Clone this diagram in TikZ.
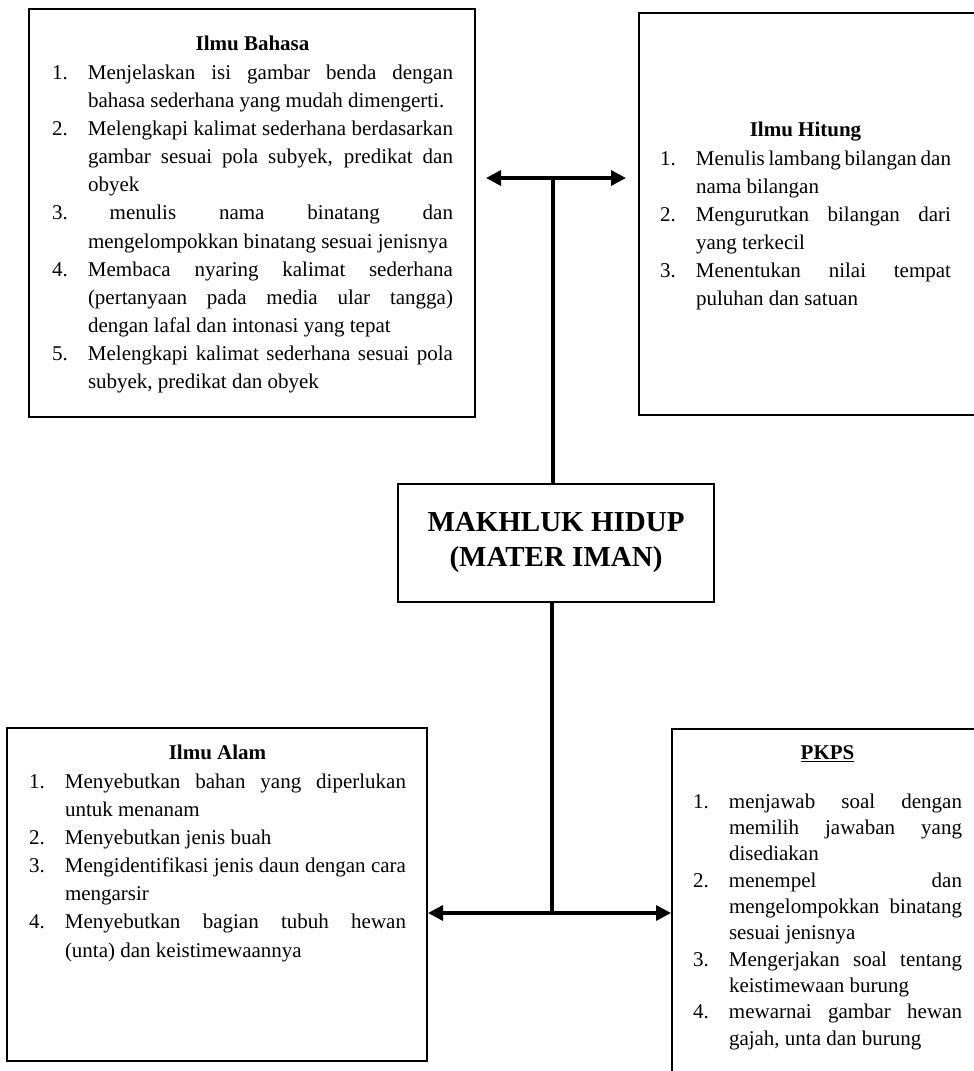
\documentclass[tikz,border=0pt]{standalone}
\usepackage{fontspec}
\setmainfont{Liberation Serif}
\usetikzlibrary{arrows.meta}
\setlength{\parindent}{0pt}
\newcommand{\judul}[1]{{\centering\textbf{#1}\par}}
\newcommand{\butir}[2]{\hangindent=21.6pt\hangafter=1\noindent\makebox[21.6pt][l]{#1}#2\par}
\begin{document}
\begin{tikzpicture}[x = 0.6pt, y = -0.6pt,
	kotak/.style = {draw, line width = 1.2pt, inner sep = 0pt},
	isi/.style = {anchor = north, inner sep = 0pt, align = justify, font = \fontsize{12.6pt}{16.9pt}\selectfont},
	garis/.style = {line width = 2pt},
	panah/.style = {line width = 2pt, {Triangle[length = 9pt, width = 9pt]}-{Triangle[length = 9pt, width = 9pt]}}]
	\useasboundingbox (0, 0) rectangle (974, 1071);
	% boxes
	\node[kotak, minimum width = 267.6pt, minimum height = 244.8pt] (bahasa) at (252, 213) {};
	\node[kotak, minimum width = 210.6pt, minimum height = 241.2pt] (hitung) at (814.5, 214) {};
	\node[kotak, minimum width = 189.6pt, minimum height = 70.8pt, align = center,
		font = \fontsize{17.4pt}{21pt}\selectfont\bfseries] (pusat) at (556, 543) {MAKHLUK HIDUP\\(MATER IMAN)};
	\node[kotak, minimum width = 252pt, minimum height = 199.8pt] (alam) at (217, 894.5) {};
	\node[kotak, minimum width = 190.8pt, minimum height = 216.6pt] (pkps) at (831, 909.5) {};
	% texts in the boxes
	\node[isi, text width = 240.6pt] (bahasaIsi) at (252.5, 36) {%
		\judul{Ilmu Bahasa}%
		\butir{1.}{Menjelaskan isi gambar benda dengan \linebreak bahasa sederhana yang mudah dimengerti.}%
		\butir{2.}{Melengkapi kalimat sederhana berdasarkan \linebreak gambar sesuai pola subyek, predikat dan \linebreak obyek}%
		\butir{3.}{\hspace{13pt}menulis nama binatang dan \linebreak mengelompokkan binatang sesuai jenisnya}%
		\butir{4.}{Membaca nyaring kalimat sederhana \linebreak (pertanyaan pada media ular tangga) \linebreak dengan lafal dan intonasi yang tepat}%
		\butir{5.}{Melengkapi kalimat sederhana sesuai pola \linebreak subyek, predikat dan obyek}};
	\node[isi, text width = 174.6pt] (hitungIsi) at (805.5, 122) {%
		\judul{Ilmu Hitung}%
		\butir{1.}{Menulis lambang bilangan dan \linebreak nama bilangan}%
		\butir{2.}{Mengurutkan bilangan dari \linebreak yang terkecil}%
		\butir{3.}{Menentukan nilai tempat \linebreak puluhan dan satuan}};
	\node[isi, text width = 226.2pt] (alamIsi) at (217.5, 745) {%
		\judul{Ilmu Alam}%
		\butir{1.}{Menyebutkan bahan yang diperlukan \linebreak untuk menanam}%
		\butir{2.}{Menyebutkan jenis buah}%
		\butir{3.}{Mengidentifikasi jenis daun dengan cara \linebreak mengarsir}%
		\butir{4.}{Menyebutkan bagian tubuh hewan \linebreak (unta) dan keistimewaannya}};
	\node[isi, text width = 161.4pt, font = \fontsize{12.6pt}{15.8pt}\selectfont] (pkpsIsi) at (827.5, 745) {%
		\judul{\underline{PKPS}}\vspace{13.6pt}%
		\butir{1.}{menjawab soal dengan \linebreak memilih jawaban yang \linebreak disediakan}%
		\butir{2.}{menempel dan \linebreak mengelompokkan binatang \linebreak sesuai jenisnya}%
		\butir{3.}{Mengerjakan soal tentang \linebreak keistimewaan burung}%
		\butir{4.}{mewarnai gambar hewan \linebreak gajah, unta dan burung}};
	% connectors
	\coordinate (atas) at (553, 178);
	\coordinate (bawah) at (552, 913);
	\draw[garis] (pusat.north -| atas) -- (atas);
	\draw[panah, shorten <= 6pt, shorten >= 7.2pt] (bahasa.east |- atas) -- (hitung.west |- atas);
	\draw[garis] (pusat.south -| bawah) -- (bawah);
	\draw[panah] (alam.east |- bawah) -- (pkps.west |- bawah);
\end{tikzpicture}
\end{document}
